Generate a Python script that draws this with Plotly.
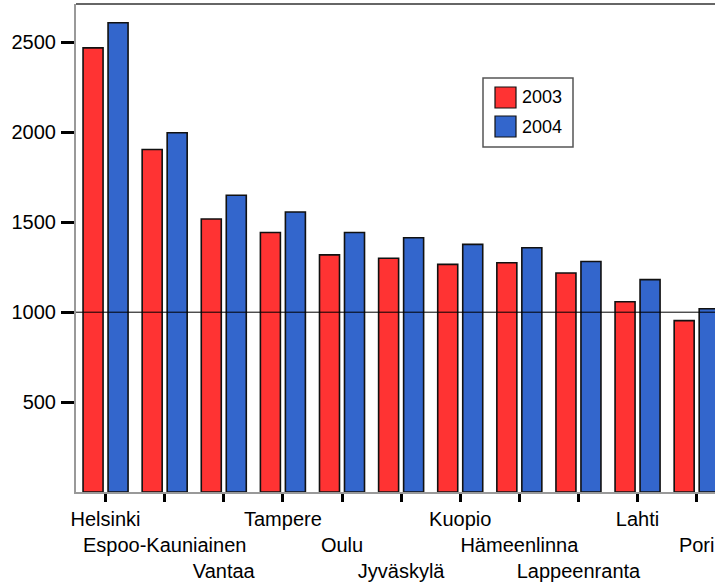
import plotly.graph_objects as go

cities = ["Helsinki", "Espoo-Kauniainen", "Vantaa", "Tampere", "Oulu", "Jyväskylä",
          "Kuopio", "Hämeenlinna", "Lappeenranta", "Lahti", "Pori"]
v2003 = [2470, 1905, 1518, 1443, 1319, 1300, 1266, 1275, 1218, 1058, 953]
v2004 = [2610, 1998, 1650, 1557, 1443, 1414, 1377, 1358, 1282, 1181, 1019]
years = ["2003", "2004"]
colors = ["#FF3333", "#3366CC"]
yticks = [500, 1000, 1500, 2000, 2500]
ref_value = 1000

W, H = 715, 582
ML, MR, MT, MB = 76, 0, 4, 90
PW, PH = W - ML - MR, H - MT - MB


def pxx(px):
    return (px - ML) / PW


def pxy(py):
    return (H - MB - py) / PH


# staggered labels in three rows
ticktext = ["<br>" * (i % 3) + c for i, c in enumerate(cities)]

fig = go.Figure()
for yr, vals, col in zip(years, [v2003, v2004], colors):
    fig.add_trace(go.Bar(x=cities, y=vals, name=yr, marker_color=col,
                         marker_line_color="#111111", marker_line_width=1.6))

shapes = [
    dict(type="line", xref="paper", yref="y", x0=0, x1=1, y0=ref_value, y1=ref_value,
         line=dict(color="black", width=1), layer="above"),
    dict(type="line", xref="paper", yref="paper", x0=0, x1=1, y0=1, y1=1,
         line=dict(color="#333333", width=1.5)),
    # legend box
    dict(type="rect", xref="paper", yref="paper", x0=pxx(483), x1=pxx(573), y0=pxy(78), y1=pxy(147),
         line=dict(color="#555555", width=1.5), fillcolor="white", layer="above"),
]
annotations = []
for i, (yr, col) in enumerate(zip(years, colors)):
    top = 87 + i * 29
    shapes.append(dict(type="rect", xref="paper", yref="paper",
                       x0=pxx(495), x1=pxx(516), y0=pxy(top), y1=pxy(top + 21),
                       line=dict(color="#111111", width=1.2), fillcolor=col, layer="above"))
    annotations.append(dict(xref="paper", yref="paper", x=pxx(520), y=pxy(top + 10.5),
                            text=yr, showarrow=False, xanchor="left", yanchor="middle",
                            font=dict(size=18, color="black")))

fig.update_layout(
    width=W, height=H,
    margin=dict(l=ML, r=MR, t=MT, b=MB, pad=0, autoexpand=False),
    paper_bgcolor="white", plot_bgcolor="white",
    font=dict(family="Liberation Sans, Arial, sans-serif", color="black"),
    barmode="group", bargap=0.154, bargroupgap=0.2,
    showlegend=False,
    shapes=shapes, annotations=annotations,
    xaxis=dict(type="category", range=[-0.5, 10.31], tickmode="array", tickvals=cities,
               ticktext=ticktext, ticks="outside", ticklen=8, tickwidth=3, tickcolor="black",
               showline=True, linecolor="#999999", linewidth=2, showgrid=False,
               tickfont=dict(size=20), tickangle=0, automargin=False),
    yaxis=dict(range=[0, 2714], tickmode="array", tickvals=yticks, ticks="outside",
               ticklen=13, tickwidth=3, tickcolor="black", showline=True,
               linecolor="#999999", linewidth=2, showgrid=False, zeroline=False,
               tickfont=dict(size=20), ticklabelstandoff=1, automargin=False),
)

fig.write_html("out.html", config={"displayModeBar": False},
               post_script="document.body.style.margin='0px';document.body.style.overflow='hidden';")
